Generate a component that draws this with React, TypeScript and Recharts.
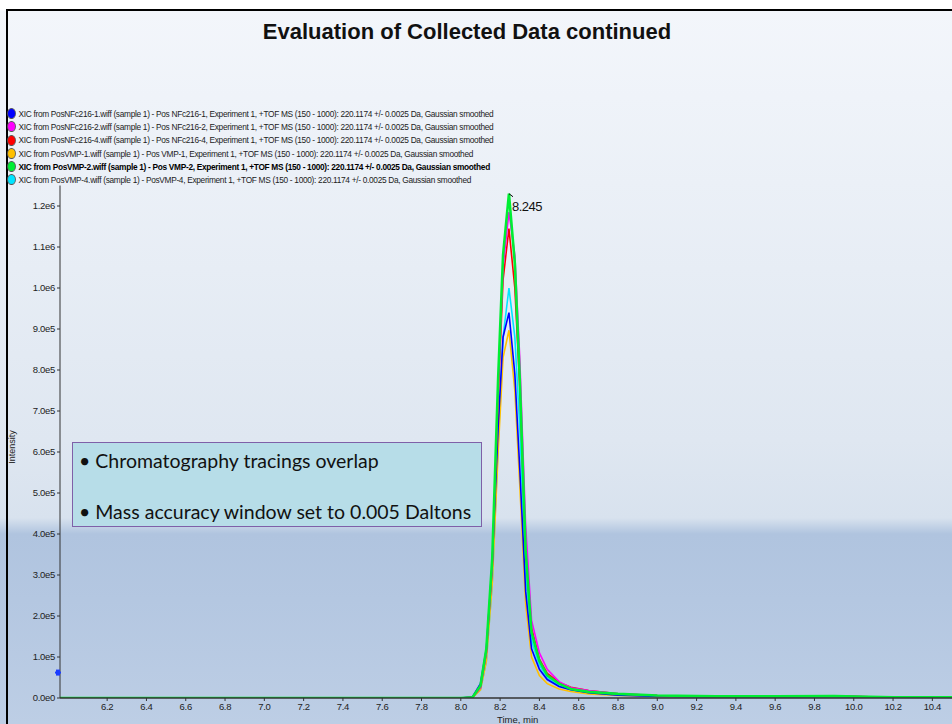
import { LineChart, Line, XAxis, YAxis, ReferenceDot } from "recharts";

// retention time (min)
const times = [5.96, 6.5, 7.0, 7.5, 8.0, 8.06, 8.10, 8.13, 8.16, 8.19, 8.215, 8.245, 8.275, 8.30, 8.33, 8.36, 8.40, 8.44, 8.50, 8.56, 8.65, 8.80, 9.0, 9.3, 9.6, 9.9, 10.2, 10.5];

// intensities per trace
const nfc1 = [0, 0, 0, 0, 0, 3000, 35000, 120000, 330000, 660000, 880000, 940000, 790000, 560000, 260000, 120000, 70000, 45000, 28000, 20000, 13000, 7000, 4000, 3000, 3000, 4000, 2000, 2000];
const nfc2 = [0, 0, 0, 0, 0, 2000, 25000, 110000, 320000, 750000, 1050000, 1185000, 1080000, 830000, 420000, 190000, 110000, 70000, 40000, 25000, 18000, 10000, 6000, 4000, 4000, 5000, 2000, 2000];
const nfc4 = [0, 0, 0, 0, 0, 2000, 25000, 110000, 320000, 730000, 1020000, 1145000, 1000000, 760000, 360000, 170000, 95000, 60000, 38000, 26000, 18000, 10000, 6000, 4000, 4000, 5000, 2000, 2000];
const vmp1 = [0, 0, 0, 0, 0, 1000, 20000, 90000, 280000, 600000, 830000, 897000, 750000, 520000, 230000, 100000, 55000, 35000, 22000, 16000, 10000, 6000, 4000, 3000, 3000, 4000, 2000, 2000];
const vmp2 = [0, 0, 0, 0, 0, 2000, 30000, 120000, 340000, 780000, 1080000, 1230000, 1060000, 780000, 360000, 160000, 90000, 55000, 35000, 22000, 15000, 10000, 6000, 4000, 4000, 5000, 2000, 2000];
const vmp4 = [0, 0, 0, 0, 0, 1000, 20000, 90000, 280000, 620000, 880000, 1000000, 880000, 660000, 310000, 140000, 80000, 50000, 30000, 20000, 14000, 8000, 5000, 3000, 3000, 4000, 2000, 2000];

const xTicks = [6.2, 6.4, 6.6, 6.8, 7.0, 7.2, 7.4, 7.6, 7.8, 8.0, 8.2, 8.4, 8.6, 8.8, 9.0, 9.2, 9.4, 9.6, 9.8, 10.0, 10.2, 10.4];
const xMinor = [6.1, 6.3, 6.5, 6.7, 6.9, 7.1, 7.3, 7.5, 7.7, 7.9, 8.1, 8.3, 8.5, 8.7, 8.9, 9.1, 9.3, 9.5, 9.7, 9.9, 10.1, 10.3, 10.5];
const yTicks = [0, 100000, 200000, 300000, 400000, 500000, 600000, 700000, 800000, 900000, 1000000, 1100000, 1200000];
const yMinor = [50000, 150000, 250000, 350000, 450000, 550000, 650000, 750000, 850000, 950000, 1050000, 1150000];

const legendRows = [
  { color: "#0000ff", bold: false, text: "XIC from PosNFc216-1.wiff (sample 1) - Pos NFc216-1, Experiment 1, +TOF MS (150 - 1000): 220.1174 +/- 0.0025 Da, Gaussian smoothed" },
  { color: "#ff00ff", bold: false, text: "XIC from PosNFc216-2.wiff (sample 1) - Pos NFc216-2, Experiment 1, +TOF MS (150 - 1000): 220.1174 +/- 0.0025 Da, Gaussian smoothed" },
  { color: "#ff0000", bold: false, text: "XIC from PosNFc216-4.wiff (sample 1) - Pos NFc216-4, Experiment 1, +TOF MS (150 - 1000): 220.1174 +/- 0.0025 Da, Gaussian smoothed" },
  { color: "#ffc000", bold: false, text: "XIC from PosVMP-1.wiff (sample 1) - Pos VMP-1, Experiment 1, +TOF MS (150 - 1000): 220.1174 +/- 0.0025 Da, Gaussian smoothed" },
  { color: "#00ee33", bold: true, text: "XIC from PosVMP-2.wiff (sample 1) - Pos VMP-2, Experiment 1, +TOF MS (150 - 1000): 220.1174 +/- 0.0025 Da, Gaussian smoothed" },
  { color: "#00e5ff", bold: false, text: "XIC from PosVMP-4.wiff (sample 1) - PosVMP-4, Experiment 1, +TOF MS (150 - 1000): 220.1174 +/- 0.0025 Da, Gaussian smoothed" },
];

const data = times.map((t, i) => ({
  t, nfc1: nfc1[i], nfc2: nfc2[i], nfc4: nfc4[i], vmp1: vmp1[i], vmp2: vmp2[i], vmp4: vmp4[i],
}));

const NARROW = '"Liberation Sans Narrow", "Arial Narrow", "Liberation Sans", Arial, sans-serif';

const fmtY = (v: number) => {
  if (v === 0) return "0.0e0";
  const e = Math.floor(Math.log10(v) + 1e-9);
  return (v / Math.pow(10, e)).toFixed(1) + "e" + e;
};

const tickStyle = { fill: "#222", fontSize: 9.5, fontFamily: NARROW, letterSpacing: -0.3 };

export default function App() {
  return (
    <div style={{
      position: "absolute", left: 0, top: 0, width: 952, height: 724, overflow: "hidden",
      background: "linear-gradient(to bottom, #ffffff 0px, #ffffff 9px, #f3f6fb 11px, #dfe7f1 440px, #d8e2ee 518px, #b0c4df 534px, #b4c7e1 600px, #bdcee5 724px)",
      fontFamily: "'Liberation Sans', Arial, sans-serif",
    }}>
      <div style={{ position: "absolute", left: 6, top: 9, width: 946, height: 2, background: "#000" }} />
      <div style={{ position: "absolute", left: 6, top: 9, width: 2, height: 715, background: "#000" }} />
      <div style={{ position: "absolute", left: 0, top: 19, width: 934, textAlign: "center", fontSize: 22, fontWeight: "bold", color: "#111" }}>
        Evaluation of Collected Data continued
      </div>

      <div style={{ position: "absolute", left: 8, top: 107, fontFamily: NARROW, fontSize: 9.5, lineHeight: "13.2px", color: "#222", letterSpacing: -0.35, whiteSpace: "nowrap", transform: "scaleX(0.875)", transformOrigin: "left top" }}>
        {legendRows.map(r => (
          <div key={r.text} style={{ display: "flex", alignItems: "center", fontWeight: r.bold ? "bold" : "normal", color: r.bold ? "#000" : "#222" }}>
            <span style={{ display: "inline-block", width: 8, height: 9, borderRadius: "50%", background: r.color, border: "0.5px solid #555", marginRight: 3, marginLeft: -1 }} />
            {r.text}
          </div>
        ))}
      </div>

      <div style={{ position: "absolute", left: 0, top: 0 }}>
        <LineChart width={952} height={724} data={data} margin={{ top: 185.5, right: 0, bottom: 0, left: 0 }}>
          <XAxis xAxisId="minor" dataKey="t" type="number" domain={[5.96, 10.5]} allowDataOverflow ticks={xMinor}
            tick={false} tickSize={2} tickLine={{ stroke: "#555" }} axisLine={false} height={0} />
          <XAxis dataKey="t" type="number" domain={[5.96, 10.5]} allowDataOverflow ticks={xTicks}
            tickFormatter={(v: number) => v.toFixed(1)} tick={tickStyle} tickSize={3}
            tickLine={{ stroke: "#333" }} axisLine={{ stroke: "#333", strokeWidth: 1.5 }} height={26} />
          <YAxis yAxisId="minor" domain={[0, 1250000]} allowDataOverflow ticks={yMinor} tick={false}
            tickSize={2} tickLine={{ stroke: "#555" }} axisLine={false} width={0} />
          <YAxis domain={[0, 1250000]} allowDataOverflow ticks={yTicks} tickFormatter={fmtY} tick={tickStyle}
            tickSize={3} tickLine={{ stroke: "#333" }} axisLine={{ stroke: "#333" }} width={60} />
          <Line dataKey="vmp4" stroke="#00e5ff" strokeWidth={1.6} dot={false} isAnimationActive={false} />
          <Line dataKey="vmp1" stroke="#ffc000" strokeWidth={1.6} dot={false} isAnimationActive={false} />
          <Line dataKey="nfc1" stroke="#0000ff" strokeWidth={1.6} dot={false} isAnimationActive={false} />
          <Line dataKey="nfc4" stroke="#ff0000" strokeWidth={1.6} dot={false} isAnimationActive={false} />
          <Line dataKey="nfc2" stroke="#ff00ff" strokeWidth={1.6} dot={false} isAnimationActive={false} />
          <Line dataKey="vmp2" stroke="#00ee33" strokeWidth={2.6} dot={false} isAnimationActive={false} />
          <ReferenceDot x={5.96} y={62000} ifOverflow="visible"
            shape={(p: any) => (
              <g>
                <rect x={p.cx - 4} y={p.cy - 3} width={4} height={6} fill="#1a3cff" />
                <rect x={p.cx - 5} y={p.cy - 1} width={6} height={2} fill="#1a3cff" />
              </g>
            )} />
          <ReferenceDot x={8.245} y={1230000} ifOverflow="visible"
            shape={(p: any) => (
              <g>
                <line x1={p.cx} y1={p.cy} x2={p.cx + 4} y2={p.cy + 3} stroke="#000" strokeWidth={1} />
                <text x={p.cx + 3} y={p.cy + 17} fontSize={13} fontFamily={NARROW} letterSpacing={-0.5} fill="#111">8.245</text>
              </g>
            )} />
        </LineChart>
      </div>

      <div style={{ position: "absolute", left: 4, top: 442, transform: "rotate(-90deg)", transformOrigin: "center", width: 40, textAlign: "center", marginLeft: -12, fontFamily: NARROW, fontSize: 9, color: "#222" }}>
        Intensity
      </div>
      <div style={{ position: "absolute", left: 497, top: 714, fontFamily: NARROW, fontSize: 9.5, color: "#222" }}>
        Time, min
      </div>

      <div style={{
        position: "absolute", left: 72, top: 442, width: 408, height: 83, background: "#b7dde8",
        border: "1.5px solid #7f60a8", fontFamily: "Lato, 'Noto Sans', sans-serif", fontSize: 19.5, color: "#111",
      }}>
        <div style={{ position: "absolute", left: 6, top: 6 }}>• Chromatography tracings overlap</div>
        <div style={{ position: "absolute", left: 6, top: 57 }}>• Mass accuracy window set to 0.005 Daltons</div>
      </div>
    </div>
  );
}
